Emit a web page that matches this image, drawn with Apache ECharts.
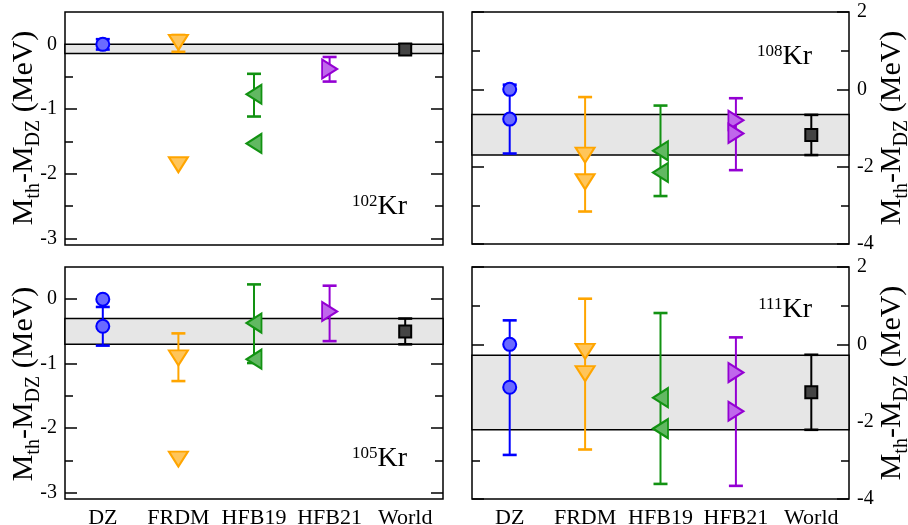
<!DOCTYPE html>
<html>
<head>
<meta charset="utf-8">
<script src="https://cdn.jsdelivr.net/npm/echarts@6/dist/echarts.min.js"></script>
<style>
html,body{margin:0;padding:0;background:#fff;}
#c{width:908px;height:525px;}
</style>
</head>
<body>
<div id="c"></div>
<script>
// ---- data ----
const categories = ['DZ', 'FRDM', 'HFB19', 'HFB21', 'World'];
const isotopes = ['102', '108', '105', '111'];
// points per model (each model may have two values)
const points102 = [[0], [0.03, -1.86], [-0.77, -1.53], [-0.38], [-0.08]];
const errors102 = [[0, 0.08], [0.015, 0.13], [-0.785, 0.33], [-0.385, 0.19], [-0.07, 0.07]]; // [center, half]
const band102 = [-0.14, 0.0];

const points108 = [[0, -0.77], [-1.70, -2.39], [-1.59, -2.15], [-0.80, -1.14], [-1.18]];
const errors108 = [[-0.77, 0.89], [-1.68, 1.48], [-1.59, 1.17], [-1.16, 0.93], [-1.18, 0.52]];
const band108 = [-1.70, -0.65];

const points105 = [[0, -0.42], [-0.91, -2.48], [-0.37, -0.93], [-0.19], [-0.50]];
const errors105 = [[-0.42, 0.30], [-0.90, 0.37], [-0.38, 0.61], [-0.22, 0.43], [-0.50, 0.20]];
const band105 = [-0.70, -0.30];

const points111 = [[0, -1.11], [-0.18, -0.76], [-1.38, -2.18], [-0.73, -1.73], [-1.24]];
const errors111 = [[-1.12, 1.74], [-0.77, 1.95], [-1.40, 2.21], [-1.74, 1.92], [-1.24, 0.97]];
const band111 = [-2.21, -0.28];

const leftMajorTicks = [-3, -2, -1, 0];
const leftMinorTicks = [-2.5, -1.5, -0.5];
const rightMajorTicks = [-4, -2, 0, 2];
const rightMinorTicks = [-3, -1, 1];

// ---- styles ----
const colors = ['#0000ff', '#ffa500', '#129212', '#9400d3', '#000000'];
const fills = ['#6a6aff', '#ffc55a', '#62b862', '#c067ec', '#444444'];
const symbols = ['circle', 'triangle', 'triangle', 'triangle', 'rect'];
const rotations = [0, 180, 90, -90, 0];
const sizes = [13, [19, 15], [19, 15], [19, 15], 12];
const FONT = 'Liberation Serif';

const panels = [
  {pts: points102, err: errors102, band: band102, iso: isotopes[0],
   grid: {left: 65, top: 12, width: 378, height: 233}, min: -3.1, max: 0.5,
   major: leftMajorTicks, minor: leftMinorTicks, side: 'left', xlab: false,
   title: [24, 128], isoPos: [407, 193]},
  {pts: points108, err: errors108, band: band108, iso: isotopes[1],
   grid: {left: 472, top: 12, width: 377, height: 232}, min: -4, max: 2,
   major: rightMajorTicks, minor: rightMinorTicks, side: 'right', xlab: false,
   title: [892, 128], isoPos: [812, 43]},
  {pts: points105, err: errors105, band: band105, iso: isotopes[2],
   grid: {left: 65, top: 267, width: 378, height: 232}, min: -3.1, max: 0.5,
   major: leftMajorTicks, minor: leftMinorTicks, side: 'left', xlab: true,
   title: [24, 384], isoPos: [407, 445]},
  {pts: points111, err: errors111, band: band111, iso: isotopes[3],
   grid: {left: 472, top: 267, width: 377, height: 232}, min: -4, max: 2,
   major: rightMajorTicks, minor: rightMinorTicks, side: 'right', xlab: true,
   title: [892, 383], isoPos: [812, 296]}
];

const grid = [], xAxis = [], yAxis = [], series = [], graphic = [];

panels.forEach((p, gi) => {
  grid.push(Object.assign({show: true, borderColor: '#000', borderWidth: 1.5,
    containLabel: false, outerBoundsMode: 'none'}, p.grid));
  xAxis.push({
    type: 'category', gridIndex: gi, data: categories, boundaryGap: true,
    axisLine: {show: false}, axisTick: {show: false}, splitLine: {show: false},
    axisLabel: {show: p.xlab, interval: 0, margin: 8, color: '#000',
      fontFamily: FONT, fontSize: 22,
      formatter: '{a|{value}}',
      rich: {a: {fontFamily: FONT, fontSize: 22, color: '#000'}}}
  });
  const mk = (pos, ticks, len, labels) => ({
    type: 'value', gridIndex: gi, position: pos, min: p.min, max: p.max,
    axisLine: {show: false}, splitLine: {show: false},
    axisTick: {show: true, inside: true, length: len, customValues: ticks, lineStyle: {color: '#000', width: 1.5}},
    axisLabel: {show: labels, customValues: ticks, margin: 8, color: '#000',
      fontFamily: FONT, fontSize: 20,
      formatter: '{a|{value}}',
      rich: {a: {fontFamily: FONT, fontSize: 20, color: '#000'}},
      showMinLabel: true, showMaxLabel: true}
  });
  const base = yAxis.length;
  yAxis.push(mk('left', p.major, 12, p.side === 'left'));
  yAxis.push(mk('left', p.minor, 8, false));
  yAxis.push(mk('right', p.major, 12, p.side === 'right'));
  yAxis.push(mk('right', p.minor, 8, false));

  // error bars + band
  series.push({
    type: 'custom', xAxisIndex: gi, yAxisIndex: base, z: 3,
    data: p.err.map((e, i) => [i, e[0], e[1]]),
    encode: {x: 0, y: 1},
    renderItem: (params, api) => {
      const i = api.value(0), c = api.value(1), h = api.value(2);
      const t = api.coord([i, c + h]), b = api.coord([i, c - h]);
      const cap = 7, st = {stroke: colors[i], lineWidth: 2}, sc = {stroke: colors[i], lineWidth: 2.6};
      return {type: 'group', children: [
        {type: 'line', shape: {x1: t[0], y1: t[1], x2: b[0], y2: b[1]}, style: st},
        {type: 'line', shape: {x1: t[0] - cap, y1: t[1], x2: t[0] + cap, y2: t[1]}, style: sc},
        {type: 'line', shape: {x1: b[0] - cap, y1: b[1], x2: b[0] + cap, y2: b[1]}, style: sc}
      ]};
    },
    markArea: {
      silent: true,
      itemStyle: {color: '#e6e6e6', borderColor: '#000', borderWidth: 1.5},
      data: [[{yAxis: p.band[1]}, {yAxis: p.band[0]}]]
    }
  });

  // markers
  p.pts.forEach((vals, mi) => {
    series.push({
      type: 'scatter', xAxisIndex: gi, yAxisIndex: base, z: 5,
      symbol: symbols[mi], symbolSize: sizes[mi], symbolRotate: rotations[mi],
      itemStyle: {color: fills[mi], borderColor: colors[mi], borderWidth: 2, opacity: 1},
      data: vals.map(v => [mi, v]),
      silent: true
    });
  });

  // y title
  graphic.push({
    type: 'text', x: p.title[0], y: p.title[1], rotation: Math.PI / 2, z: 10,
    style: {
      text: '{m|M}{s|th}{m|-M}{s|DZ}{m| (MeV)}',
      align: 'center', verticalAlign: 'middle', fill: '#000',
      rich: {
        m: {fontFamily: FONT, fontSize: 30, lineHeight: 30, verticalAlign: 'middle', fill: '#000'},
        s: {fontFamily: FONT, fontSize: 20, lineHeight: 40, verticalAlign: 'bottom', fill: '#000'}
      }
    }
  });
  // isotope label
  graphic.push({
    type: 'text', x: p.isoPos[0], y: p.isoPos[1], z: 10,
    style: {
      text: '{sup|' + p.iso + '}{k|Kr}',
      align: 'right', verticalAlign: 'top', fill: '#000',
      rich: {
        sup: {fontFamily: FONT, fontSize: 17, lineHeight: 10, verticalAlign: 'top', fill: '#000'},
        k: {fontFamily: FONT, fontSize: 28, lineHeight: 28, verticalAlign: 'top', fill: '#000'}
      }
    }
  });
});

const chart = echarts.init(document.getElementById('c'), null, {renderer: 'canvas'});
chart.setOption({
  animation: false,
  backgroundColor: '#fff',
  textStyle: {fontFamily: FONT},
  grid, xAxis, yAxis, series, graphic
});
</script>
</body>
</html>
